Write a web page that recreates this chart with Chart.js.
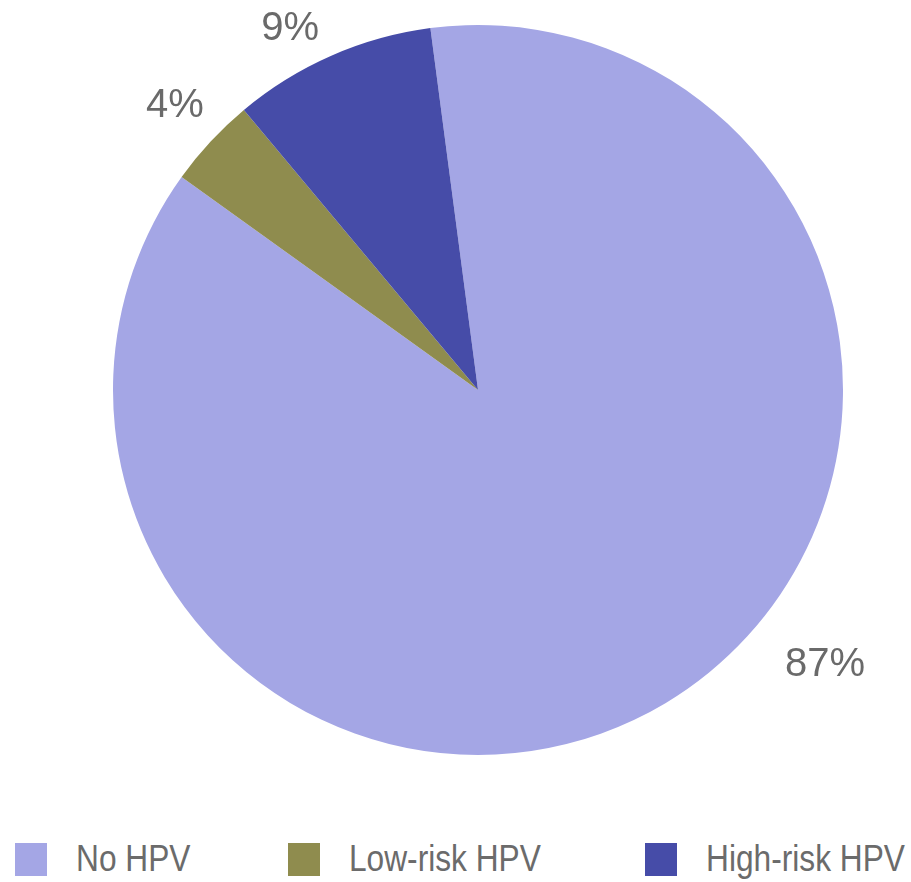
<!DOCTYPE html>
<html>
<head>
<meta charset="utf-8">
<script src="https://cdn.jsdelivr.net/npm/chart.js@4"></script>
<style>
  html, body { margin: 0; padding: 0; background: #fff; }
  #wrap { position: relative; width: 911px; height: 882px; overflow: hidden; }
  #pie { position: absolute; left: 0; top: 0; }
  .legend-item { position: absolute; top: 842px; height: 34px; display: flex; align-items: center; white-space: nowrap; }
  .legend-box { width: 32px; height: 33px; flex: none; }
  .legend-text {
    display: inline-block;
    font-family: "Liberation Sans", Arial, sans-serif;
    font-size: 36px; color: #6b6b6b; margin-left: 29px; line-height: 34px;
    transform: scaleX(0.88); transform-origin: left center;
  }
</style>
</head>
<body>
<div id="wrap">
  <canvas id="pie" width="911" height="790"></canvas>
  <div id="legend"></div>
</div>
<script>
  "use strict";

  const categories = ["No HPV", "Low-risk HPV", "High-risk HPV"];
  const shares = [87, 4, 9];
  const shareLabels = ["87%", "4%", "9%"];
  const sliceColors = ["#a4a6e5", "#8f8c4e", "#464ca8"];

  // label placement: [angle shift from slice middle (deg), radius factor]
  const labelPlacement = [[-20.7, 1.213], [0.2, 1.137], [-3.8, 1.114]];
  const legendLeft = [15, 288, 645];

  const pctLabels = {
    id: "pctLabels",
    afterDatasetsDraw(chart) {
      const { ctx } = chart;
      const arcs = chart.getDatasetMeta(0).data;
      ctx.save();
      ctx.font = "40px 'Liberation Sans', Arial, sans-serif";
      ctx.fillStyle = "#6a6a6a";
      ctx.textAlign = "center";
      ctx.textBaseline = "middle";
      arcs.forEach((arc, i) => {
        const p = arc.getProps(["x", "y", "startAngle", "endAngle", "outerRadius"], true);
        const [shift, factor] = labelPlacement[i];
        const mid = (p.startAngle + p.endAngle) / 2 + shift * Math.PI / 180;
        const r = p.outerRadius * factor;
        ctx.fillText(shareLabels[i], p.x + Math.cos(mid) * r, p.y + Math.sin(mid) * r);
      });
      ctx.restore();
    }
  };

  new Chart(document.getElementById("pie"), {
    type: "pie",
    data: {
      labels: categories,
      datasets: [{
        data: shares,
        backgroundColor: sliceColors,
        borderWidth: 0
      }]
    },
    options: {
      responsive: false,
      animation: false,
      rotation: -7.5,
      layout: { padding: { top: 25, bottom: 35, left: 113, right: 68 } },
      plugins: {
        legend: { display: false },
        tooltip: { enabled: false }
      }
    },
    plugins: [pctLabels]
  });

  const legend = document.getElementById("legend");
  legend.innerHTML = categories.map((name, i) => `
    <div class="legend-item" style="left:${legendLeft[i]}px">
      <div class="legend-box" style="background:${sliceColors[i]}"></div>
      <span class="legend-text">${name}</span>
    </div>`).join("");
</script>
</body>
</html>
